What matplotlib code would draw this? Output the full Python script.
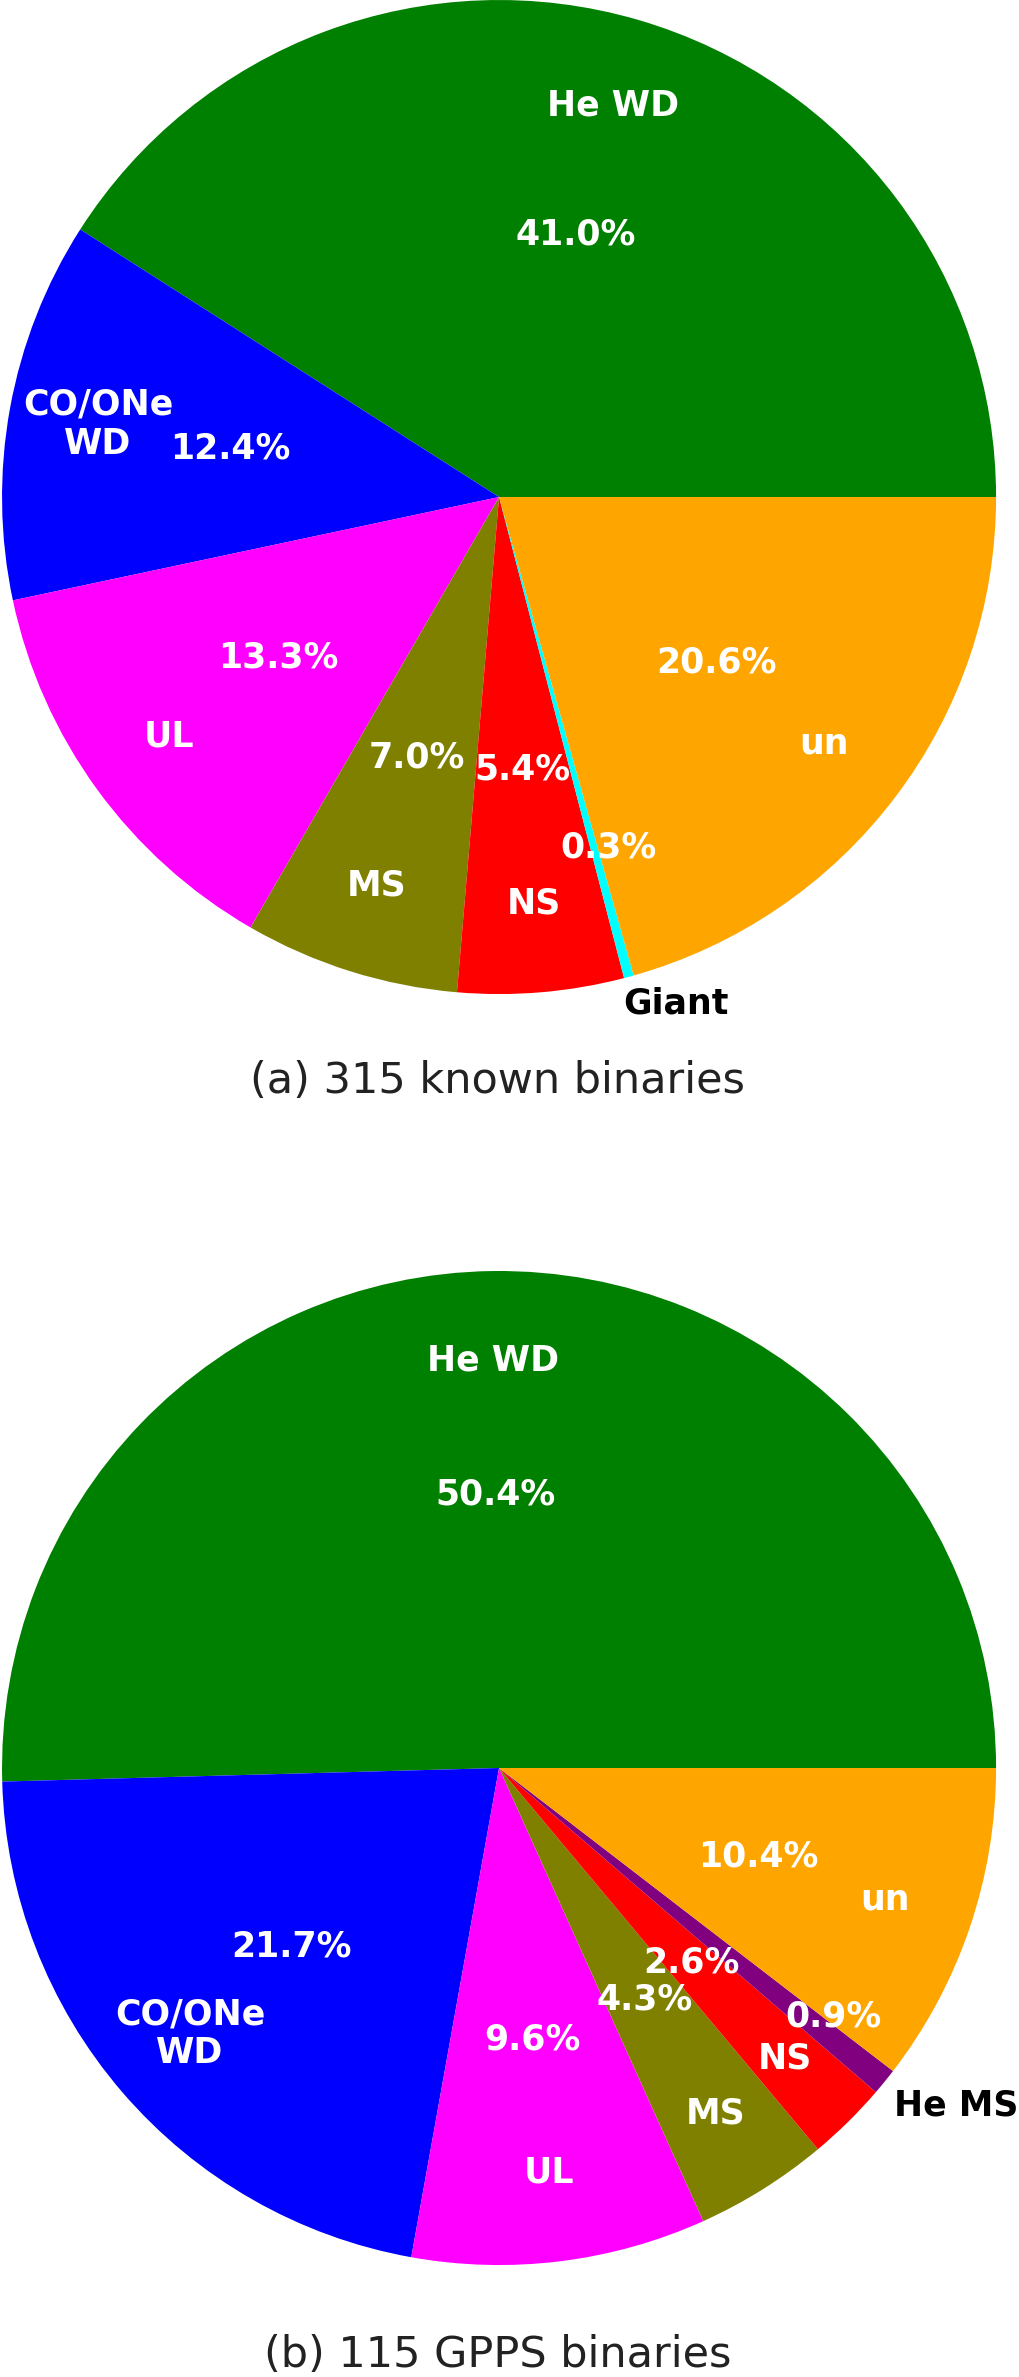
import matplotlib
matplotlib.use("Agg")
from matplotlib import pyplot as plt

# (a) 315 known binaries
labels_a = ["He WD", "CO/ONe\nWD", "UL", "MS", "NS", "Giant", "un"]
counts_a = [129, 39, 42, 22, 17, 1, 65]
colors_a = ["green", "blue", "magenta", "olive", "red", "cyan", "orange"]

# (b) 115 GPPS binaries
labels_b = ["He WD", "CO/ONe\nWD", "UL", "MS", "NS", "He MS", "un"]
counts_b = [58, 25, 11, 5, 3, 1, 12]
colors_b = ["green", "blue", "magenta", "olive", "red", "purple", "orange"]

titles = ["(a) 315 known binaries", "(b) 115 GPPS binaries"]


def draw_pie(ax, counts, labels, colors):
    wedges, texts, autotexts = ax.pie(
        counts, labels=labels, colors=colors, autopct="%1.1f%%",
        startangle=0, counterclock=True, labeldistance=0.82,
        pctdistance=0.55,
        textprops=dict(color="white", fontweight="bold", fontsize=25,
                       ha="center"))
    ax.set_xlim(-1, 1)
    ax.set_ylim(-1, 1)
    ax.set_aspect("equal")
    ax.axis("off")
    return texts, autotexts


fig = plt.figure(figsize=(10.19, 23.77), dpi=100)
ax1 = fig.add_axes([0.002, 0.5818, 0.9755, 0.4182])
ax2 = fig.add_axes([0.002, 0.0471, 0.9755, 0.4182])

texts, autotexts = draw_pie(ax1, counts_a, labels_a, colors_a)
# tiny slice: label outside in black, percentage pushed out
texts[5].set_color("black")
texts[5].set_position((0.25, -1.02))
texts[5].set_ha("left")
autotexts[5].set_position((0.22, -0.705))

texts, autotexts = draw_pie(ax2, counts_b, labels_b, colors_b)
texts[5].set_color("black")
texts[5].set_position((0.794, -0.68))
texts[5].set_ha("left")
autotexts[5].set_position((0.673, -0.50))

fig.text(0.488, 0.5452, titles[0], ha="center", va="center", fontsize=31,
         color="#222222")
fig.text(0.488, 0.0093, titles[1], ha="center", va="center", fontsize=31,
         color="#222222")

fig.savefig("out.png", dpi=100)
